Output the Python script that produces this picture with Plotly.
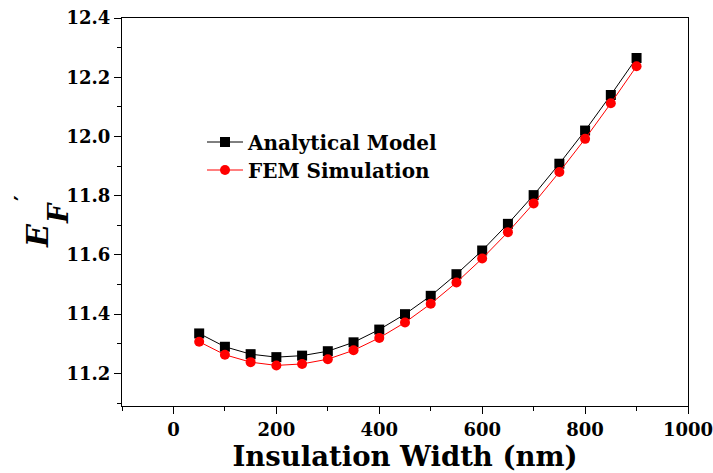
import plotly.graph_objects as go

width_nm = [50, 100, 150, 200, 250, 300, 350, 400, 450, 500, 550, 600, 650, 700, 750, 800, 850, 900]
analytical = [11.335, 11.290, 11.265, 11.255, 11.260, 11.275, 11.305, 11.348, 11.400, 11.462,
              11.535, 11.615, 11.705, 11.802, 11.908, 12.020, 12.140, 12.265]
fem = [11.307, 11.263, 11.238, 11.227, 11.232, 11.248, 11.278, 11.320, 11.372, 11.435,
       11.507, 11.588, 11.677, 11.774, 11.880, 11.992, 12.112, 12.237]

x_ticks = [0, 200, 400, 600, 800, 1000]
x_minor = [-100, 100, 300, 500, 700, 900]
y_ticks = [11.2, 11.4, 11.6, 11.8, 12.0, 12.2, 12.4]
y_minor = [11.1, 11.3, 11.5, 11.7, 11.9, 12.1, 12.3]

FONT = "DejaVu Serif, serif"

fig = go.Figure()
fig.add_trace(go.Scatter(x=width_nm, y=analytical, mode="lines+markers", name="<b>Analytical Model</b>",
                         line=dict(color="black", width=1), legend="legend",
                         marker=dict(symbol="square", size=10, color="black")))
fig.add_trace(go.Scatter(x=width_nm, y=fem, mode="lines+markers", name="<b>FEM Simulation</b>",
                         line=dict(color="red", width=1), legend="legend2",
                         marker=dict(symbol="circle", size=10, color="red")))

L, R, T, B = 122, 25, 18, 67
W, H = 713, 473
pw = W - L - R
ph = H - T - B

def px(x):
    return (x - L) / pw

def py(y):
    return 1 - (y - T) / ph

leg_common = dict(xanchor="left", yanchor="middle", bgcolor="rgba(0,0,0,0)",
                  font=dict(size=20, family=FONT), itemwidth=36)

fig.update_layout(
    width=W, height=H,
    margin=dict(l=L, r=R, t=T, b=B),
    paper_bgcolor="white", plot_bgcolor="white",
    font=dict(family=FONT, color="black"),
    showlegend=True,
    legend=dict(x=px(202), y=py(142), **leg_common),
    legend2=dict(x=px(202), y=py(170), **leg_common),
    xaxis=dict(range=[-100, 1000], tickvals=x_ticks,
               ticktext=["<b>%d</b>" % v for v in x_ticks],
               ticks="outside", ticklen=7, tickwidth=1, tickcolor="black",
               minor=dict(tickvals=x_minor, ticks="outside", ticklen=4, tickcolor="black"),
               showline=True, linecolor="black", linewidth=1, mirror=True,
               showgrid=False, zeroline=False, automargin=False,
               ticklabeloverflow="allow",
               tickfont=dict(size=18, family=FONT),
               title=dict(text="<b>Insulation Width (nm)</b>", font=dict(size=27.5, family=FONT), standoff=1)),
    yaxis=dict(range=[11.09, 12.4], tickvals=y_ticks,
               ticktext=["<b>%.1f</b>" % v for v in y_ticks],
               ticks="outside", ticklen=7, tickwidth=1, tickcolor="black",
               minor=dict(tickvals=y_minor, ticks="outside", ticklen=4, tickcolor="black"),
               showline=True, linecolor="black", linewidth=1, mirror=True,
               showgrid=False, zeroline=False, automargin=False,
               ticklabeloverflow="allow",
               tickfont=dict(size=18, family=FONT)),
)

fig.add_annotation(text="<b><i>E</i></b>", x=px(37), y=py(236), xref="paper", yref="paper",
                   textangle=-90, showarrow=False, xanchor="center", yanchor="middle",
                   font=dict(size=30, family=FONT))
fig.add_annotation(text="<b><i>F</i></b>", x=px(58), y=py(213), xref="paper", yref="paper",
                   textangle=-90, showarrow=False, xanchor="center", yanchor="middle",
                   font=dict(size=27, family=FONT))
fig.add_annotation(text="<b>′</b>", x=px(22), y=py(198), xref="paper", yref="paper",
                   textangle=-90, showarrow=False, xanchor="center", yanchor="middle",
                   font=dict(size=22, family=FONT))

fig.write_html("out.html")
